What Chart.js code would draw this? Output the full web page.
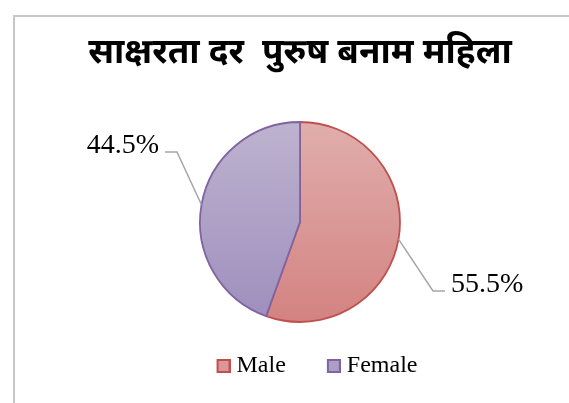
<!DOCTYPE html>
<html><head><meta charset="utf-8">
<script src="https://cdn.jsdelivr.net/npm/chart.js@4/dist/chart.umd.min.js"></script>
<style>html,body{margin:0;padding:0;background:#fff;overflow:hidden}canvas{display:block}</style>
</head><body>
<canvas id="c" width="569" height="403"></canvas>
<script>
// ---- data ----
const titleText = 'साक्षरता दर  पुरुष बनाम महिला';
const categories = ['Male', 'Female'];
const values = [55.5, 44.5];

// ---- styles ----
const PIE_R = 100;
const fillTop = ['#e0aeac', '#bdb3cf'];
const fillBottom = ['#d38381', '#9f8ebd'];
const edgeColors = ['#c0504d', '#8064a2'];
const legendFill = ['#d99795', '#ab9fc6'];

function makeBox(fill, stroke, W) {
  const cv = document.createElement('canvas');
  cv.width = W; cv.height = 14;
  const g = cv.getContext('2d');
  g.fillStyle = fill;
  g.fillRect(W - 14, 0, 14, 14);
  g.strokeStyle = stroke; g.lineWidth = 2;
  g.strokeRect(W - 13, 1, 12, 12);
  return cv;
}
const boxImgs = categories.map((c, i) => makeBox(legendFill[i], edgeColors[i], 54));

const framePlugin = {
  id: 'frame',
  beforeDraw(chart) {
    const c = chart.ctx;
    c.save();
    c.fillStyle = '#fff';
    c.fillRect(0, 0, chart.width, chart.height);
    c.strokeStyle = '#c6c6c6';
    c.lineWidth = 2;
    c.beginPath();
    c.moveTo(14, chart.height + 2);
    c.lineTo(14, 16);
    c.lineTo(chart.width + 2, 16);
    c.stroke();
    c.restore();
  }
};

const leaderPlugin = {
  id: 'leaders',
  afterDatasetsDraw(chart, args, opts) {
    const meta = chart.getDatasetMeta(0);
    const ctx = chart.ctx;
    meta.data.forEach((arc, i) => {
      const p = arc.getProps(['x', 'y', 'startAngle', 'endAngle', 'outerRadius'], true);
      const a = (p.startAngle + p.endAngle) / 2;
      const p0x = p.x + Math.cos(a) * p.outerRadius;
      const p0y = p.y + Math.sin(a) * p.outerRadius;
      const off = opts.elbows[i];
      const ex = p.x + off[0], ey = p.y + off[1];
      const dir = off[0] >= 0 ? 1 : -1;
      const lx = ex + dir * opts.tail;
      ctx.save();
      ctx.strokeStyle = opts.color;
      ctx.lineWidth = opts.width;
      ctx.beginPath();
      ctx.moveTo(p0x, p0y);
      ctx.lineTo(ex, ey);
      ctx.lineTo(lx, ey);
      ctx.stroke();
      ctx.font = opts.font;
      ctx.fillStyle = '#000';
      ctx.textAlign = dir > 0 ? 'left' : 'right';
      ctx.textBaseline = 'alphabetic';
      ctx.fillText(values[i].toFixed(1) + '%', lx + dir * opts.gap, ey + 1);
      ctx.restore();
    });
  }
};

new Chart(document.getElementById('c'), {
  type: 'pie',
  data: {
    labels: categories,
    datasets: [{
      data: values,
      radius: PIE_R,
      backgroundColor(ctx) {
        const ch = ctx.chart, a = ch.chartArea, i = ctx.dataIndex;
        if (!a) return fillBottom[i];
        const cy = (a.top + a.bottom) / 2;
        const g = ch.ctx.createLinearGradient(0, cy - PIE_R, 0, cy + PIE_R);
        g.addColorStop(0, fillTop[i]);
        g.addColorStop(1, fillBottom[i]);
        return g;
      },
      borderColor: edgeColors,
      borderWidth: 1.8
    }]
  },
  options: {
    responsive: false,
    animation: false,
    devicePixelRatio: 1,
    events: [],
    layout: { padding: { left: 31, right: 0, top: 0, bottom: 15 } },
    plugins: {
      title: {
        display: true,
        text: titleText,
        color: '#000',
        font: { family: '"Noto Sans Devanagari", "Noto Sans", sans-serif', size: 35, weight: 'bold', lineHeight: 1.2 },
        padding: { top: 35, bottom: 20 }
      },
      legend: {
        display: true,
        position: 'bottom',
        labels: {
          usePointStyle: true,
          pointStyleWidth: 42,
          padding: 7,
          color: '#000',
          font: { family: '"Liberation Serif", "Times New Roman", serif', size: 24 },
          generateLabels() {
            return categories.map((t, i) => ({
              text: t, fillStyle: legendFill[i], strokeStyle: edgeColors[i], lineWidth: 0,
              pointStyle: boxImgs[i], hidden: false, index: i, datasetIndex: 0, fontColor: '#000'
            }));
          }
        }
      },
      tooltip: { enabled: false },
      leaders: {
        elbows: [[133, 69], [-123, -70]],
        tail: 12, gap: 6, color: '#a6a6a6', width: 1.5,
        font: '28px "Liberation Serif", "Times New Roman", serif'
      }
    }
  },
  plugins: [framePlugin, leaderPlugin]
});
</script>
</body></html>
